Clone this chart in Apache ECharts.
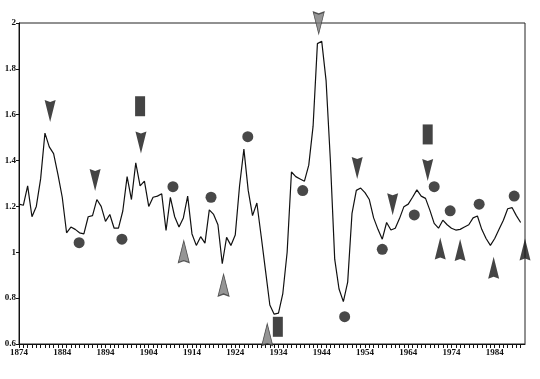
<!DOCTYPE html>
<html>
<head>
<meta charset="utf-8">
<script src="https://cdn.jsdelivr.net/npm/echarts@6/dist/echarts.min.js"></script>
<style>html,body{margin:0;padding:0;background:#fff}#c{width:540px;height:379px}</style>
</head>
<body>
<div id="c"></div>
<script>
var years = [1874,1875,1876,1877,1878,1879,1880,1881,1882,1883,1884,1885,1886,1887,1888,1889,1890,1891,1892,1893,1894,1895,1896,1897,1898,1899,1900,1901,1902,1903,1904,1905,1906,1907,1908,1909,1910,1911,1912,1913,1914,1915,1916,1917,1918,1919,1920,1921,1922,1923,1924,1925,1926,1927,1928,1929,1930,1931,1932,1933,1934,1935,1936,1937,1938,1939,1940,1941,1942,1943,1944,1945,1946,1947,1948,1949,1950,1951,1952,1953,1954,1955,1956,1957,1958,1959,1960,1961,1962,1963,1964,1965,1966,1967,1968,1969,1970,1971,1972,1973,1974,1975,1976,1977,1978,1979,1980,1981,1982,1983,1984,1985,1986,1987,1988,1989,1990];
var values = [1.21,1.205,1.29,1.155,1.20,1.32,1.52,1.46,1.43,1.34,1.24,1.085,1.11,1.10,1.085,1.08,1.155,1.16,1.23,1.20,1.135,1.165,1.105,1.105,1.18,1.33,1.23,1.39,1.29,1.31,1.20,1.24,1.245,1.255,1.095,1.24,1.155,1.11,1.15,1.245,1.08,1.03,1.068,1.04,1.185,1.165,1.12,0.95,1.065,1.03,1.075,1.29,1.45,1.27,1.16,1.215,1.07,0.92,0.77,0.73,0.735,0.82,1.0,1.35,1.33,1.32,1.31,1.38,1.55,1.91,1.92,1.75,1.40,0.97,0.84,0.785,0.87,1.17,1.27,1.28,1.26,1.23,1.15,1.10,1.057,1.13,1.097,1.105,1.148,1.199,1.21,1.24,1.272,1.245,1.235,1.184,1.126,1.105,1.14,1.12,1.105,1.097,1.10,1.11,1.12,1.15,1.158,1.10,1.06,1.03,1.06,1.10,1.14,1.19,1.195,1.16,1.13];

var downYears = [1881.2,1891.6,1902.2,1952.2,1960.4,1968.5];
var downVals  = [1.616,1.315,1.479,1.368,1.21,1.359];
var grayDownYears = [1943.3];
var grayDownVals  = [2.0];
var rectYears = [1902.0,1933.85,1968.5];
var rectVals  = [1.637,0.675,1.514];
var upYears = [1971.4,1976.0,1983.75,1991.0];
var upVals  = [1.016,1.01,0.933,1.012];
var grayUpYears = [1912.1,1921.3,1931.4];
var grayUpVals  = [1.003,0.857,0.641];
var circleYears = [1887.9,1897.8,1909.6,1918.4,1926.9,1939.6,1949.3,1958.0,1965.4,1970.0,1973.7,1980.4,1988.5];
var circleVals  = [1.042,1.057,1.286,1.24,1.504,1.269,0.719,1.013,1.163,1.286,1.181,1.21,1.245];

var xMin = 1874, xMax = 1991, labelStep = 10;
var yMin = 0.6, yMax = 2, yStep = 0.2;

function pairs(xs, ys){ return xs.map(function(x,i){ return [x, ys[i]]; }); }

var upPath = 'path://M5,0 L10,22 L5,20 L0,22 Z';
var downPath = 'path://M0,0 L5,2 L10,0 L5,22 Z';
var font = {fontFamily:'Liberation Serif', fontWeight:'bold', fontSize:9, color:'#111'};

var chart = echarts.init(document.getElementById('c'), null, {renderer:'canvas'});
chart.setOption({
  animation:false,
  backgroundColor:'#fff',
  grid:{left:19, right:15, top:23, bottom:35, show:true, borderColor:'#222', borderWidth:1, backgroundColor:'transparent'},
  xAxis:{
    type:'value', min:xMin, max:xMax, interval:1,
    axisLine:{show:true, lineStyle:{color:'#111', width:1}},
    axisTick:{show:true, length:4, lineStyle:{color:'#111'}},
    splitLine:{show:false},
    axisLabel:Object.assign({margin:4, showMaxLabel:false, formatter:function(v){ return ((v - xMin) % labelStep === 0) ? String(v) : ''; }}, font)
  },
  yAxis:{
    type:'value', min:yMin, max:yMax, interval:yStep,
    axisLine:{show:true, lineStyle:{color:'#111', width:1}},
    axisTick:{show:true, length:3, lineStyle:{color:'#111'}},
    splitLine:{show:false},
    axisLabel:Object.assign({margin:3, formatter:function(v){ return String(Math.round(v*10)/10); }}, font)
  },
  series:[
    {type:'line', data:pairs(years, values), symbol:'none', smooth:false, lineStyle:{color:'#111', width:1.2}, z:2},
    {type:'scatter', clip:false, data:pairs(downYears, downVals), symbol:downPath, symbolSize:[11,22], itemStyle:{color:'#151515'}, z:3},
    {type:'scatter', clip:false, data:pairs(grayDownYears, grayDownVals), symbol:downPath, symbolSize:[11,22], itemStyle:{color:'#7a7a7a', borderColor:'#333', borderWidth:1}, z:3},
    {type:'scatter', clip:false, data:pairs(rectYears, rectVals), symbol:'rect', symbolSize:[10,20], itemStyle:{color:'#151515'}, z:3},
    {type:'scatter', clip:false, data:pairs(upYears, upVals), symbol:upPath, symbolSize:[11,22], itemStyle:{color:'#151515'}, z:3},
    {type:'scatter', clip:false, data:pairs(grayUpYears, grayUpVals), symbol:upPath, symbolSize:[11,22], itemStyle:{color:'#7a7a7a', borderColor:'#333', borderWidth:1}, z:3},
    {type:'scatter', clip:false, data:pairs(circleYears, circleVals), symbol:'circle', symbolSize:11, itemStyle:{color:'#1a1a1a'}, z:3}
  ]
});
</script>
</body>
</html>
